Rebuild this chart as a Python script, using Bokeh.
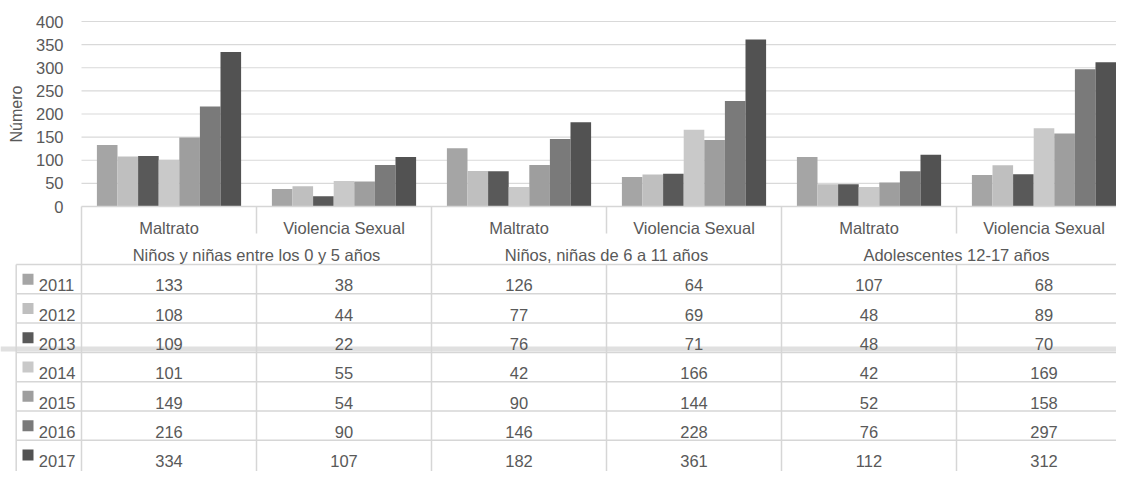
import math
from bokeh.plotting import figure
from bokeh.models import Range1d, FixedTicker, ColumnDataSource, LinearAxis
from bokeh.core.properties import value
from bokeh.embed import file_html
from bokeh.resources import INLINE

# ---------------- data ----------------
years = ["2011", "2012", "2013", "2014", "2015", "2016", "2017"]
categories = ["Maltrato", "Violencia Sexual", "Maltrato", "Violencia Sexual", "Maltrato", "Violencia Sexual"]
groups = ["Niños y niñas entre los 0 y 5 años", "Niños, niñas de 6 a 11 años", "Adolescentes 12-17 años"]
v2011 = [133, 38, 126, 64, 107, 68]
v2012 = [108, 44, 77, 69, 48, 89]
v2013 = [109, 22, 76, 71, 48, 70]
v2014 = [101, 55, 42, 166, 42, 169]
v2015 = [149, 54, 90, 144, 52, 158]
v2016 = [216, 90, 146, 228, 76, 297]
v2017 = [334, 107, 182, 361, 112, 312]
series = [v2011, v2012, v2013, v2014, v2015, v2016, v2017]
y_ticks = [0, 50, 100, 150, 200, 250, 300, 350, 400]
y_label = "Número"

# ---------------- style ----------------
colors = ["#a5a5a5", "#bfbfbf", "#595959", "#c9c9c9", "#9e9e9e", "#7a7a7a", "#525252"]
FONT = "Liberation Sans"
FS = "16.5px"
TXT = "#595959"
GRID = "#d9d9d9"
TLINE = "#d6d6d6"

GW = 175.0      # pixels per category column
X0 = 82.0       # left edge of plot area (picture px)
Y0 = 207.0      # value 0 (picture px)
PPU = 0.4625    # px per value unit
LEFT, RIGHT = 1.0, 1117.0
TOP, BOTTOM = 1.0, 472.0


def gx(px):
    return (px - X0) / GW


def py(px):
    return -px


ncat = len(categories)
nser = len(series)
bw = 20.6 / GW
pad = (1 - nser * bw) / 2

p = figure(width=int(RIGHT - LEFT), height=int(BOTTOM - TOP),
           x_range=Range1d(gx(LEFT), gx(RIGHT)), y_range=Range1d(py(BOTTOM), py(TOP)),
           output_backend="svg", toolbar_location=None,
           x_axis_location=None, y_axis_location=None, min_border=0)
p.outline_line_color = None
p.grid.visible = False
p.extra_y_ranges = {"val": Range1d((Y0 - BOTTOM) / PPU, (Y0 - TOP) / PPU)}

# value axis, pinned at the left edge of the bar area
ax = LinearAxis(y_range_name="val", fixed_location=0.0, ticker=FixedTicker(ticks=y_ticks))
ax.axis_line_color = None
ax.major_tick_line_color = None
ax.minor_tick_line_color = None
ax.major_tick_out = 0
ax.major_tick_in = 0
ax.major_label_standoff = 18
ax.major_label_text_font = FONT
ax.major_label_text_font_size = FS
ax.major_label_text_color = TXT
p.add_layout(ax, "left")

# axis title, centred on the value scale
p.text(x=[gx(16.5)], y=[(400 + 0) / 2], text=[y_label], y_range_name="val", angle=math.pi / 2,
       text_align="center", text_baseline="middle",
       text_font=value(FONT), text_font_size=value("16px"), text_color=TXT)

# horizontal grid lines across the bar area
gt = [t for t in y_ticks if t > 0]
p.segment(x0=[0] * len(gt), x1=[gx(RIGHT)] * len(gt), y0=gt, y1=gt, y_range_name="val",
          line_color=GRID, line_width=1.2)

# bars
for i, (yr, vals) in enumerate(zip(years, series)):
    xs = [c + pad + (i + 0.5) * bw for c in range(ncat)]
    src = ColumnDataSource(dict(x=xs, top=vals))
    p.vbar(x="x", top="top", width=bw, bottom=0, source=src, y_range_name="val",
           fill_color=colors[i], line_color=None)

# ---------------- data table ----------------
ROW0 = 265.0
RH = 29.3

# faint watermark band
p.quad(left=[gx(LEFT)], right=[gx(RIGHT)], top=[py(ROW0 + 3 * RH - 6)], bottom=[py(ROW0 + 3 * RH - 1)],
       fill_color="#e0e0e0", line_color=None)

x0s, y0s, x1s, y1s = [], [], [], []


def seg(xa, ya, xb, yb):
    x0s.append(gx(xa)); y0s.append(py(ya)); x1s.append(gx(xb)); y1s.append(py(yb))


seg(X0, Y0, RIGHT, Y0)
for k in range(nser):
    seg(16.7, ROW0 + k * RH, RIGHT, ROW0 + k * RH)
seg(16.7, ROW0, 16.7, BOTTOM)
seg(X0, Y0, X0, BOTTOM)
for k in range(1, ncat):
    xk = X0 + GW * k
    if k % 2 == 0:
        seg(xk, Y0, xk, BOTTOM)
    else:
        seg(xk, Y0, xk, 234)
        seg(xk, ROW0, xk, BOTTOM)
p.segment(x0=x0s, y0=y0s, x1=x1s, y1=y1s, line_color=TLINE, line_width=1.5)

tk = dict(text_font=value(FONT), text_font_size=value(FS), text_color=TXT)
p.text(x=[c + 0.5 for c in range(ncat)], y=[py(228.3)] * ncat, text=categories,
       text_align="center", text_baseline="alphabetic", **tk)
p.text(x=[2 * j + 1.0 for j in range(len(groups))], y=[py(255.5)] * len(groups), text=groups,
       text_align="center", text_baseline="alphabetic", **tk)
p.scatter(x=[gx(28.5)] * nser, y=[py(ROW0 + RH / 2 + i * RH) for i in range(nser)],
          marker="square", size=11, fill_color=colors, line_color=None)
p.text(x=[gx(39.3)] * nser, y=[py(ROW0 + 20.8 + i * RH) for i in range(nser)], text=years,
       text_align="left", text_baseline="alphabetic", **tk)
for i, vals in enumerate(series):
    p.text(x=[c + 0.5 for c in range(ncat)], y=[py(ROW0 + 20.8 + i * RH)] * ncat,
           text=[str(v) for v in vals], text_align="center", text_baseline="alphabetic", **tk)

open("out.html", "w").write(file_html(p, INLINE))
